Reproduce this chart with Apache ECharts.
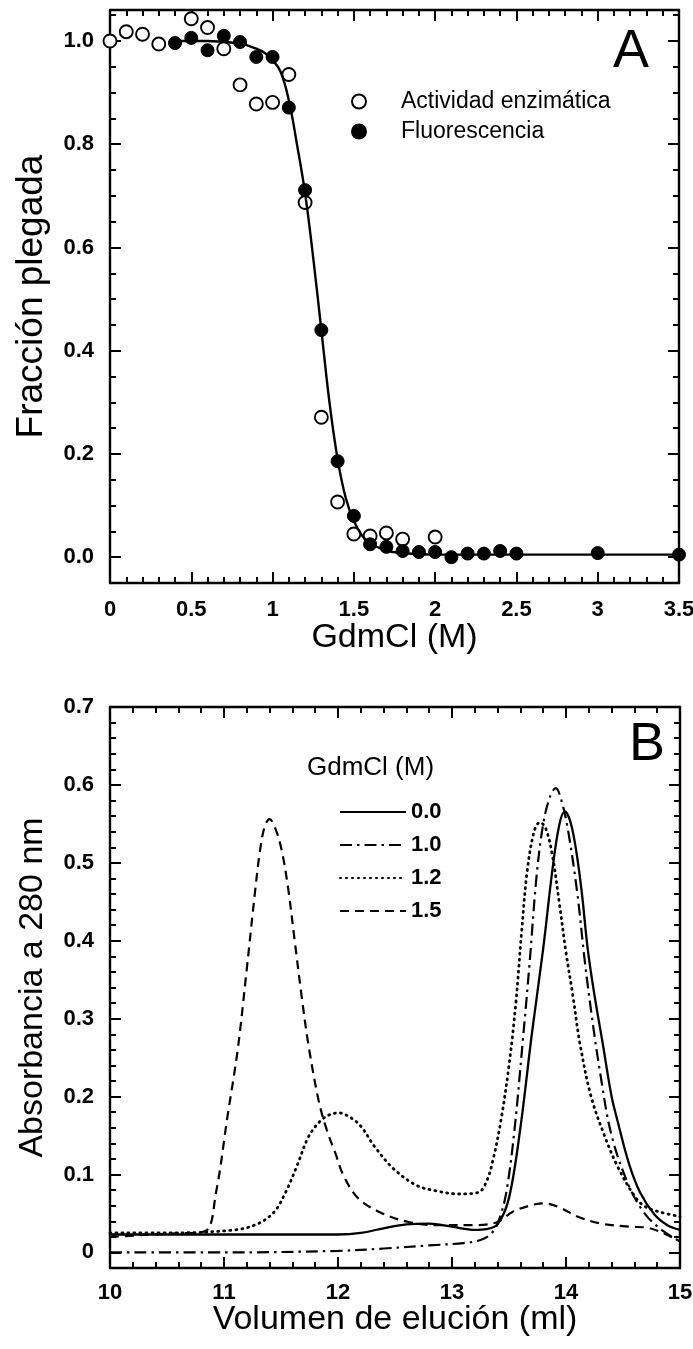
<!DOCTYPE html>
<html><head><meta charset="utf-8">
<script src="https://cdn.jsdelivr.net/npm/echarts@6/dist/echarts.min.js"></script>
<style>html,body{margin:0;padding:0;background:#fff}#c{width:693px;height:1349px}</style>
</head><body><div id="c"></div>
<script>
// ---------- Panel A data ----------
const gdmTicksA = [0, 0.5, 1, 1.5, 2, 2.5, 3, 3.5];
const fracTicksA = [0, 0.2, 0.4, 0.6, 0.8, 1.0];
const actividadX = [0, 0.1, 0.2, 0.3, 0.5, 0.6, 0.7, 0.8, 0.9, 1.0, 1.1, 1.2, 1.3, 1.4, 1.5, 1.6, 1.7, 1.8, 2.0];
const actividadY = [1.0, 1.018, 1.013, 0.994, 1.043, 1.026, 0.985, 0.915, 0.878, 0.881, 0.935, 0.687, 0.271, 0.107, 0.045, 0.041, 0.047, 0.035, 0.039];
const fluorX = [0.4, 0.5, 0.6, 0.7, 0.8, 0.9, 1.0, 1.1, 1.2, 1.3, 1.4, 1.5, 1.6, 1.7, 1.8, 1.9, 2.0, 2.1, 2.2, 2.3, 2.4, 2.5, 3.0, 3.5];
const fluorY = [0.996, 1.006, 0.982, 1.01, 0.998, 0.969, 0.969, 0.871, 0.711, 0.44, 0.186, 0.08, 0.025, 0.02, 0.012, 0.01, 0.01, 0.0, 0.007, 0.007, 0.012, 0.007, 0.008, 0.005];
const ajusteX = [0.4, 0.6, 0.8, 0.9, 0.95, 1.0, 1.05, 1.1, 1.15, 1.2, 1.25, 1.3, 1.35, 1.4, 1.45, 1.5, 1.55, 1.6, 1.7, 1.8, 2.0, 2.5, 3.0, 3.5];
const ajusteY = [1.0, 1.0, 0.995, 0.985, 0.977, 0.963, 0.94, 0.885, 0.80, 0.705, 0.58, 0.44, 0.30, 0.19, 0.115, 0.07, 0.042, 0.027, 0.013, 0.008, 0.005, 0.005, 0.005, 0.005];

// ---------- Panel B data ----------
const volTicksB = [10, 11, 12, 13, 14, 15];
const absTicksB = [0, 0.1, 0.2, 0.3, 0.4, 0.5, 0.6, 0.7];
const gdm00 = [[10,0.023],[11,0.023],[12,0.023],[12.2,0.025],[12.4,0.031],[12.6,0.036],[12.8,0.037],[13.0,0.033],[13.2,0.029],[13.3,0.03],[13.4,0.036],[13.5,0.07],[13.6,0.16],[13.7,0.28],[13.8,0.39],[13.88,0.49],[13.94,0.548],[13.99,0.566],[14.04,0.552],[14.09,0.515],[14.14,0.46],[14.19,0.39],[14.25,0.33],[14.32,0.27],[14.4,0.2],[14.45,0.17],[14.55,0.115],[14.65,0.077],[14.78,0.048],[14.89,0.035],[15,0.029]];
const gdm10 = [[10,0.0],[11,0.0],[12,0.002],[12.4,0.005],[12.8,0.009],[13.1,0.012],[13.25,0.016],[13.35,0.025],[13.42,0.045],[13.48,0.08],[13.55,0.16],[13.62,0.27],[13.68,0.37],[13.74,0.48],[13.8,0.55],[13.86,0.585],[13.91,0.596],[13.96,0.58],[14.02,0.54],[14.1,0.46],[14.16,0.38],[14.22,0.31],[14.3,0.23],[14.4,0.15],[14.55,0.086],[14.68,0.052],[14.82,0.031],[15,0.014]];
const gdm12 = [[10,0.025],[10.5,0.025],[11.1,0.029],[11.3,0.037],[11.44,0.052],[11.54,0.077],[11.64,0.111],[11.74,0.148],[11.84,0.168],[11.93,0.177],[12.01,0.179],[12.1,0.174],[12.2,0.162],[12.32,0.136],[12.49,0.107],[12.69,0.086],[12.86,0.079],[13.06,0.075],[13.23,0.077],[13.3,0.09],[13.36,0.119],[13.43,0.17],[13.5,0.24],[13.56,0.32],[13.61,0.41],[13.66,0.49],[13.72,0.54],[13.77,0.552],[13.82,0.545],[13.88,0.51],[13.94,0.45],[14.0,0.385],[14.06,0.33],[14.12,0.27],[14.22,0.2],[14.34,0.149],[14.45,0.111],[14.58,0.077],[14.68,0.06],[14.82,0.052],[15,0.046]];
const gdm15 = [[10,0.02],[10.5,0.024],[10.83,0.027],[10.93,0.077],[11.03,0.174],[11.12,0.26],[11.2,0.364],[11.27,0.46],[11.32,0.52],[11.36,0.548],[11.4,0.556],[11.44,0.548],[11.5,0.52],[11.56,0.47],[11.62,0.40],[11.68,0.33],[11.74,0.267],[11.83,0.195],[11.9,0.158],[11.98,0.126],[12.05,0.098],[12.18,0.069],[12.39,0.05],[12.62,0.039],[12.86,0.035],[13.2,0.035],[13.4,0.039],[13.53,0.052],[13.68,0.06],[13.8,0.063],[13.94,0.058],[14.1,0.046],[14.31,0.037],[14.55,0.033],[14.7,0.032],[14.85,0.025],[15,0.014]];

// ---------- helpers ----------
const FONT = "'Liberation Sans', Arial, sans-serif";
const range = (a, b, s) => { const r = []; for (let i = 0; a + i * s <= b + 1e-9; i++) r.push(Math.round((a + i * s) * 1000) / 1000); return r; };
const zip = (xs, ys) => xs.map((x, i) => [x, ys[i]]);

function frameAxes(dim, grid, min, max, majors, minors, name, nameGap, labelMargin, fmt, nameSize) {
  const sides = dim === 'x' ? ['bottom', 'top'] : ['left', 'right'];
  const tickStyle = { color: '#000', width: 2 };
  const out = [];
  sides.forEach((pos, i) => {
    out.push({
      type: 'value', gridIndex: grid, position: pos, min: min, max: max,
      splitLine: { show: false },
      axisLine: { show: true, onZero: false, lineStyle: { color: '#000', width: 2.4 } },
      axisTick: { show: true, inside: true, length: 6, customValues: minors, lineStyle: tickStyle },
      axisLabel: i === 0 ? { show: true, customValues: majors, formatter: fmt, margin: labelMargin, color: '#000', fontFamily: FONT, fontWeight: 'bold', fontSize: 22 } : { show: false },
      name: i === 0 ? name : '', nameLocation: 'middle', nameGap: nameGap, nameMoveOverlap: false,
      nameTextStyle: { color: '#000', fontFamily: FONT, fontSize: nameSize }
    });
    out.push({
      type: 'value', gridIndex: grid, position: pos, min: min, max: max,
      splitLine: { show: false },
      axisLine: { show: false, onZero: false },
      axisTick: { show: true, inside: true, length: 11, customValues: majors, lineStyle: tickStyle },
      axisLabel: { show: false }
    });
  });
  return out;
}

const xAxes = [].concat(
  frameAxes('x', 0, 0, 3.5, gdmTicksA, range(0, 3.5, 0.1), 'GdmCl (M)', 38, 16, v => String(v), 34),
  frameAxes('x', 1, 10, 15, volTicksB, range(10, 15, 0.2), 'Volumen de elución (ml)', 35, 14, v => String(v), 34)
);
const yAxes = [].concat(
  frameAxes('y', 0, -0.05, 1.06, fracTicksA, range(-0.05, 1.05, 0.05), 'Fracción plegada', 60, 16, v => v.toFixed(1), 37),
  frameAxes('y', 1, -0.02, 0.7, absTicksB, range(-0.02, 0.7, 0.02), 'Absorbancia a 280 nm', 60, 16, v => (v === 0 ? '0' : v.toFixed(1)), 34)
);

const lineB = (name, data, type, width, cap) => ({
  name: name, type: 'line', xAxisIndex: 4, yAxisIndex: 4, data: data, smooth: 0.35,
  symbol: 'none', showSymbol: false,
  lineStyle: { color: '#000', width: width, type: type, cap: cap || 'butt' },
  itemStyle: { color: '#000' }
});

const option = {
  animation: false,
  backgroundColor: '#fff',
  title: [
    { text: 'A', left: 608, top: 20, textStyle: { fontFamily: FONT, fontSize: 54, fontWeight: 'normal', color: '#000' } },
    { text: 'B', left: 624, top: 713, textStyle: { fontFamily: FONT, fontSize: 54, fontWeight: 'normal', color: '#000' } },
    { text: 'GdmCl (M)', left: 302, top: 750, textStyle: { fontFamily: FONT, fontSize: 26, fontWeight: 'normal', color: '#000' } }
  ],
  grid: [
    { left: 110, top: 10, width: 569, height: 573, containLabel: false, outerBoundsMode: 'none' },
    { left: 110, top: 707, width: 570, height: 561, containLabel: false, outerBoundsMode: 'none' }
  ],
  legend: [
    { data: ['Actividad enzimática', 'Fluorescencia'], orient: 'vertical', left: 346, top: 85,
      itemWidth: 14, itemHeight: 14, itemGap: 7,
      textStyle: { fontFamily: FONT, fontSize: 23, color: '#000', padding: [0, 0, 0, 30] } },
    { data: ['0.0', '1.0', '1.2', '1.5'], orient: 'vertical', left: 334, top: 796,
      itemWidth: 66, itemHeight: 14, itemGap: 11,
      itemStyle: { opacity: 0 },
      textStyle: { fontFamily: FONT, fontSize: 22, fontWeight: 'bold', color: '#000' } }
  ],
  xAxis: xAxes,
  yAxis: yAxes,
  series: [
    { name: 'Ajuste', type: 'line', xAxisIndex: 0, yAxisIndex: 0, data: zip(ajusteX, ajusteY), smooth: 0.4,
      symbol: 'none', lineStyle: { color: '#000', width: 2.4 } },
    { name: 'Actividad enzimática', type: 'scatter', xAxisIndex: 0, yAxisIndex: 0, data: zip(actividadX, actividadY),
      symbol: 'circle', symbolSize: 13, itemStyle: { color: '#fff', borderColor: '#000', borderWidth: 1.9, opacity: 1 } },
    { name: 'Fluorescencia', type: 'scatter', xAxisIndex: 0, yAxisIndex: 0, data: zip(fluorX, fluorY),
      symbol: 'circle', symbolSize: 13, itemStyle: { color: '#000', borderColor: '#000', borderWidth: 1, opacity: 1 } },
    lineB('0.0', gdm00, 'solid', 2.3),
    lineB('1.0', gdm10, [12, 5, 2.5, 5], 2.2),
    lineB('1.2', gdm12, [1, 5], 2.8, 'round'),
    lineB('1.5', gdm15, [9, 6], 2.2)
  ]
};
echarts.init(document.getElementById('c'), null, { renderer: 'canvas' }).setOption(option);
</script></body></html>
